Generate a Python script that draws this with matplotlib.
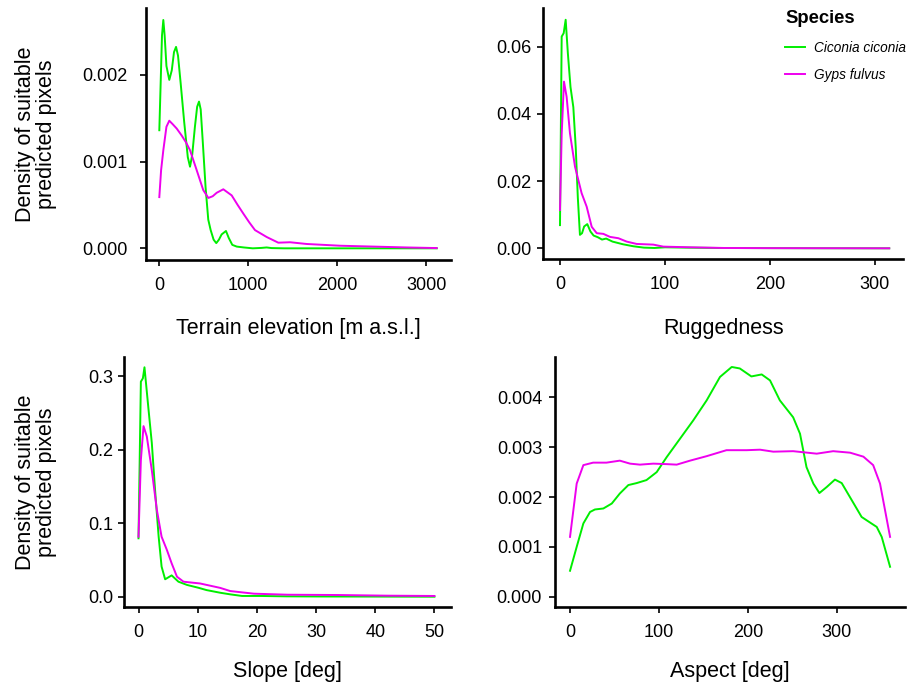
import matplotlib
matplotlib.use("Agg")
import matplotlib.pyplot as plt
from matplotlib.lines import Line2D
from matplotlib.ticker import FormatStrFormatter

plt.rcParams['font.family'] = ['Liberation Sans', 'DejaVu Sans']

GREEN = '#00EE00'
MAGENTA = '#EE00EE'
species = ['Ciconia ciconia', 'Gyps fulvus']

# Terrain elevation
elev_x_cc = [0, 15, 30, 45, 60, 80, 112, 140, 165, 188, 210, 240, 280, 320, 345, 370, 400, 425, 446,
             465, 490, 520, 550, 577, 610, 640, 670, 700, 749, 780, 820, 870, 950, 1050, 1150, 1206,
             1260, 1400, 1700, 2000, 2500, 3117]
elev_y_cc = [0.00136, 0.0019, 0.00245, 0.00263, 0.00245, 0.0021, 0.00194, 0.00205, 0.00226, 0.00232,
             0.00222, 0.0019, 0.00145, 0.00105, 0.00094, 0.00108, 0.0014, 0.00163, 0.00169, 0.0016,
             0.0012, 0.0007, 0.00033, 0.00021, 0.0001, 0.00006, 0.0001, 0.00016, 0.0002, 0.00012,
             0.00004, 0.00002, 0.00001, 0.0, 0.000005, 0.00001, 0.000003, 0.0, 0.0, 0.0, 0.0, 0.0]
elev_x_gf = [0, 20, 45, 80, 112, 150, 195, 251, 300, 345, 420, 494, 551, 600, 645, 719, 813, 880, 944,
             1010, 1075, 1207, 1337, 1469, 1656, 2030, 2404, 2779, 3117]
elev_y_gf = [0.00059, 0.0009, 0.00113, 0.0014, 0.00147, 0.00143, 0.00138, 0.0013, 0.00122, 0.00113,
             0.0009, 0.00067, 0.00058, 0.0006, 0.00064, 0.00068, 0.00061, 0.0005, 0.0004, 0.0003,
             0.00021, 0.00013, 0.000065, 0.00007, 0.00005, 0.00003, 0.00002, 0.00001, 0.000003]

# Ruggedness
rug_x_cc = [0, 1.6, 3.5, 5.4, 7.5, 10, 12.7, 15, 17, 19, 21, 23, 26, 29, 32, 36, 40, 44, 50, 60, 70,
            80, 90, 100, 120, 150, 200, 250, 313.6]
rug_y_cc = [0.0069, 0.063, 0.064, 0.068, 0.058, 0.048, 0.042, 0.030, 0.015, 0.004, 0.0045, 0.0065,
            0.0072, 0.005, 0.0038, 0.0033, 0.0026, 0.0029, 0.002, 0.0012, 0.0006, 0.0002, 0.0001,
            0.0003, 0.0002, 0.0001, 0.00005, 0.00002, 0.0]
rug_x_gf = [0, 1.6, 3.8, 6.3, 9.5, 14.3, 20.6, 25.4, 30.2, 35, 41.3, 47.6, 55.6, 63.5, 73, 88.9, 98.4,
            124, 156, 200, 313.6]
rug_y_gf = [0.0114, 0.034, 0.0496, 0.0451, 0.0342, 0.0243, 0.0164, 0.0124, 0.0064, 0.0045, 0.0043,
            0.0034, 0.003, 0.002, 0.0013, 0.0011, 0.0005, 0.0003, 0.0001, 0.00005, 0.0]

# Slope
slope_x_cc = [0, 0.4, 0.74, 1.01, 1.7, 2.25, 2.8, 3.4, 3.9, 4.5, 5.6, 6.75, 8.2, 10.1, 11.5, 13.8,
              15.5, 17.5, 20.6, 25, 30.6, 50]
slope_y_cc = [0.0794, 0.2925, 0.297, 0.312, 0.254, 0.209, 0.145, 0.082, 0.041, 0.0237, 0.029, 0.0204,
              0.016, 0.0122, 0.009, 0.0054, 0.0032, 0.001, 0.001, 0.0005, 0.0003, 0.0]
slope_x_gf = [0, 0.4, 0.85, 1.4, 2.25, 3.1, 3.9, 4.8, 5.6, 6.5, 7.6, 10.4, 12.1, 13.8, 15.5, 19.5,
              25.2, 33.7, 42, 50]
slope_y_gf = [0.0816, 0.186, 0.232, 0.218, 0.172, 0.118, 0.0816, 0.0635, 0.0454, 0.0272, 0.0204,
              0.018, 0.015, 0.012, 0.0077, 0.0041, 0.0027, 0.0023, 0.0014, 0.001]

# Aspect
asp_x_cc = [0, 7.5, 15, 22.5, 28, 37.5, 47, 56, 65.6, 75, 86, 97.5, 108.7, 123.7, 138.7, 153.7, 168.7,
            181.9, 191, 204, 215.6, 225, 236, 251, 258.7, 266, 273.7, 280.5, 288.7, 298, 305.6, 316.8,
            328, 339, 345, 350.6, 360]
asp_y_cc = [0.00052, 0.001, 0.00147, 0.0017, 0.00175, 0.00177, 0.00187, 0.00207, 0.00224, 0.00228,
            0.00234, 0.0025, 0.0028, 0.00317, 0.00354, 0.00394, 0.00441, 0.00461, 0.00458, 0.00442,
            0.00446, 0.00434, 0.00394, 0.0036, 0.00327, 0.0026, 0.00227, 0.00208, 0.0022, 0.00235,
            0.00228, 0.00194, 0.0016, 0.00147, 0.0014, 0.0012, 0.0006]
asp_x_gf = [0, 7.5, 15, 26, 41, 56, 67.5, 78.7, 93.7, 108.7, 120, 135, 153.7, 176, 198.7, 213.7,
            228.7, 251, 277.5, 296, 315, 330, 341, 348.7, 354.3, 360]
asp_y_gf = [0.0012, 0.00227, 0.00264, 0.00269, 0.00269, 0.00273, 0.00267, 0.00265, 0.00267, 0.00266,
            0.00265, 0.00273, 0.00282, 0.00294, 0.00294, 0.00295, 0.00291, 0.00292, 0.00287, 0.00292,
            0.00289, 0.00281, 0.00264, 0.00227, 0.00174, 0.0012]

W, H = 914, 686
fig = plt.figure(figsize=(W / 100, H / 100), dpi=100)


def make_axes(l, r, t, b):
    return fig.add_axes([l / W, 1 - b / H, (r - l) / W, (b - t) / H])


panels = [
    dict(box=(145.7, 450.6, 8, 259.7), xlim=(-153, 3273), ylim=(-0.000131, 0.002768),
         xt=[0, 1000, 2000, 3000], yt=[0, 0.001, 0.002], fmt='%.3f', ypad=9,
         data=(elev_x_cc, elev_y_cc, elev_x_gf, elev_y_gf),
         xlabel='Terrain elevation [m a.s.l.]', xlpad=17.5, ylab=True),
    dict(box=(543.3, 903, 8, 259.3), xlim=(-15.9, 326.7), ylim=(-0.00327, 0.0715),
         xt=[0, 100, 200, 300], yt=[0, 0.02, 0.04, 0.06], fmt='%.2f', ypad=4.5,
         data=(rug_x_cc, rug_y_cc, rug_x_gf, rug_y_gf),
         xlabel='Ruggedness', xlpad=17.5, ylab=False),
    dict(box=(124, 451, 357, 607), xlim=(-2.45, 52.8), ylim=(-0.0140, 0.326),
         xt=[0, 10, 20, 30, 40, 50], yt=[0, 0.1, 0.2, 0.3], fmt='%.1f', ypad=3.5,
         data=(slope_x_cc, slope_y_cc, slope_x_gf, slope_y_gf),
         xlabel='Slope [deg]', xlpad=14, ylab=True),
    dict(box=(555, 905, 357, 607), xlim=(-16.9, 376.8), ylim=(-0.000207, 0.00481),
         xt=[0, 100, 200, 300], yt=[0, 0.001, 0.002, 0.003, 0.004], fmt='%.3f', ypad=5,
         data=(asp_x_cc, asp_y_cc, asp_x_gf, asp_y_gf),
         xlabel='Aspect [deg]', xlpad=14, ylab=False),
]

for p in panels:
    l, r, t, b = p['box']
    ax = make_axes(l, r, t, b)
    xc, yc, xg, yg = p['data']
    ax.plot(xc, yc, color=GREEN, lw=1.4, solid_joinstyle='round')
    ax.plot(xg, yg, color=MAGENTA, lw=1.4, solid_joinstyle='round')
    ax.set_xlim(p['xlim'])
    ax.set_ylim(p['ylim'])
    ax.set_xticks(p['xt'])
    ax.set_yticks(p['yt'])
    ax.yaxis.set_major_formatter(FormatStrFormatter(p['fmt']))
    for s in ['top', 'right']:
        ax.spines[s].set_visible(False)
    for s in ['left', 'bottom']:
        ax.spines[s].set_linewidth(1.9)
    ax.tick_params(length=4.3, width=1.2, labelsize=13, colors='black')
    ax.tick_params(axis='x', pad=8)
    ax.tick_params(axis='y', pad=p['ypad'])
    ax.set_xlabel(p['xlabel'], fontsize=15.5, labelpad=p['xlpad'])
    if p['ylab']:
        yc_px = 1 - ((t + b) / 2) / H
        fig.text(36 / W, yc_px, 'Density of suitable\npredicted pixels', rotation=90,
                 ha='center', va='center', multialignment='center', fontsize=15.5,
                 linespacing=1.0)

handles = [Line2D([], [], color=GREEN, lw=1.4), Line2D([], [], color=MAGENTA, lw=1.4)]
leg = fig.legend(handles, species, loc='upper left', bbox_to_anchor=(785 / W, 1 - 10 / H),
                 frameon=False, title='Species', alignment='left', handlelength=1.5,
                 handletextpad=0.6, borderpad=0, borderaxespad=0,
                 prop={'style': 'italic', 'size': 9.8}, labelspacing=1.0,
                 title_fontproperties={'weight': 'bold', 'size': 13.3})

fig.savefig('out.png', dpi=100)
